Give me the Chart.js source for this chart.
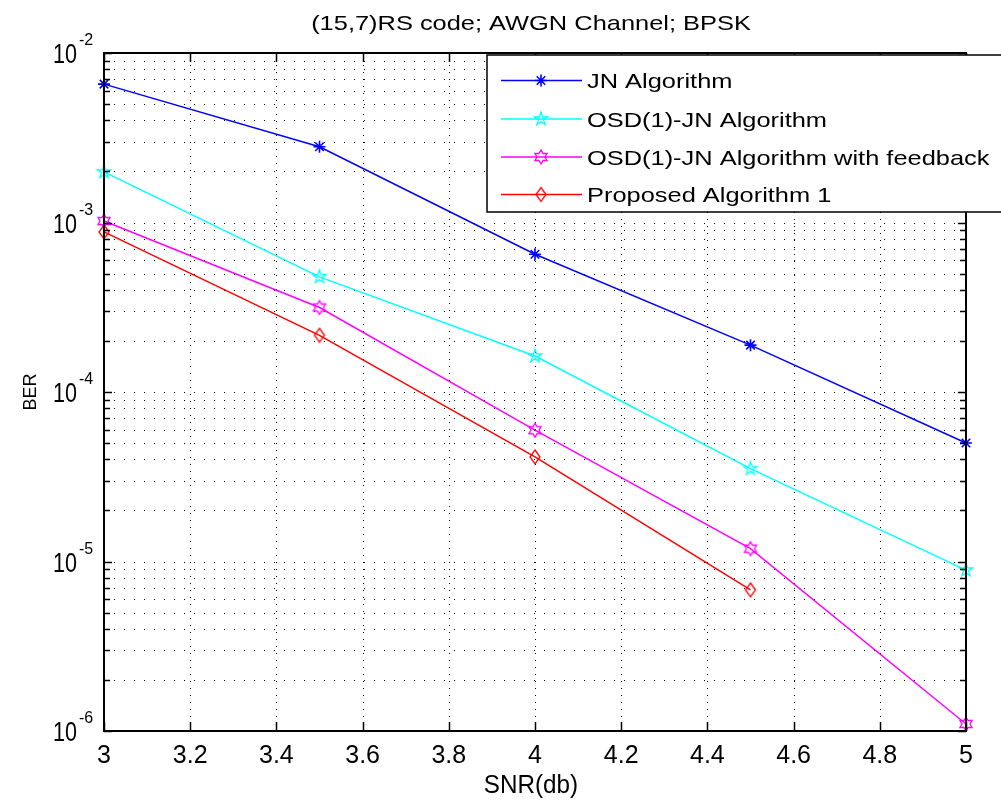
<!DOCTYPE html>
<html>
<head>
<meta charset="utf-8">
<title>(15,7)RS code BER</title>
<script src="https://cdn.jsdelivr.net/npm/chart.js@4/dist/chart.umd.min.js"></script>
<style>
  html, body { margin: 0; padding: 0; background: #fff; }
  canvas { display: block; }
</style>
</head>
<body>
<canvas id="ber" width="1001" height="802"></canvas>
<script>
// SNR points (dB)
const snr = [3, 3.5, 4, 4.5, 5];

// BER per decoder
const berJN = [6.55e-3, 2.8e-3, 6.5e-4, 1.89e-4, 5.0e-5];
const berOSD = [1.99e-3, 4.78e-4, 1.63e-4, 3.53e-5, 8.9e-6];
const berOSDfb = [1.02e-3, 3.15e-4, 5.95e-5, 1.19e-5, 1.1e-6];
const berProposed = [8.8e-4, 2.16e-4, 4.14e-5, 6.8e-6];

const seriesNames = [
  'JN Algorithm',
  'OSD(1)-JN Algorithm',
  'OSD(1)-JN Algorithm with feedback',
  'Proposed Algorithm 1'
];

const xTicks = [3, 3.2, 3.4, 3.6, 3.8, 4, 4.2, 4.4, 4.6, 4.8, 5];
const yDecades = [-6, -5, -4, -3, -2];
const titleText = '(15,7)RS code; AWGN Channel; BPSK';

const FONT = '"Liberation Sans", Arial, sans-serif';

// little marker bitmaps, matlab style
function markerCanvas(kind, color) {
  const c = document.createElement('canvas');
  c.width = 18; c.height = 18;
  const g = c.getContext('2d');
  g.strokeStyle = color;
  g.lineWidth = 1.3;
  g.translate(9, 9);
  g.beginPath();
  if (kind === 'penta') {
    const R = 7, r = R * 0.382;
    for (let i = 0; i < 10; i++) {
      const a = -Math.PI / 2 + i * Math.PI / 5;
      const rr = i % 2 ? r : R;
      g.lineTo(rr * Math.cos(a), rr * Math.sin(a));
    }
  } else if (kind === 'hexa') {
    const R = 7, r = R * 0.577;
    for (let i = 0; i < 12; i++) {
      const a = -Math.PI / 2 + i * Math.PI / 6;
      const rr = i % 2 ? r : R;
      g.lineTo(rr * Math.cos(a), rr * Math.sin(a));
    }
  } else {
    g.moveTo(0, -7); g.lineTo(5, 0); g.lineTo(0, 7); g.lineTo(-5, 0);
  }
  g.closePath();
  g.stroke();
  return c;
}

const mkPenta = markerCanvas('penta', '#00ffff');
const mkHexa = markerCanvas('hexa', '#ff00ff');
const mkDiamond = markerCanvas('diamond', '#ff0000');

function pts(ys) { return ys.map((y, i) => ({ x: snr[i], y: y })); }

function ds(label, ys, color, style) {
  return {
    label: label,
    data: pts(ys),
    borderColor: color,
    backgroundColor: color,
    borderWidth: 1.5,
    pointStyle: style,
    pointRadius: 6,
    pointBorderWidth: 1.6,
    pointBorderColor: color,
    tension: 0,
    clip: false
  };
}

function text(ctx, s, x, y, size, sx, align) {
  ctx.save();
  ctx.translate(x, y);
  ctx.scale(sx, 1);
  ctx.font = size + 'px ' + FONT;
  ctx.textAlign = align;
  ctx.textBaseline = 'alphabetic';
  ctx.fillStyle = '#000';
  ctx.fillText(s, 0, 0);
  ctx.restore();
}

function minorValues() {
  const out = [];
  for (const d of yDecades) {
    for (let m = 1; m <= 9; m++) {
      const v = m * Math.pow(10, d);
      if (v <= 1e-2 * 1.0001) out.push({ v: v, major: m === 1 });
    }
  }
  return out;
}

const axesPlugin = {
  id: 'matlabAxes',
  beforeDatasetsDraw(chart) {
    const { ctx, chartArea: a, scales } = chart;
    const xs = scales.x, ys = scales.y;
    ctx.save();
    ctx.strokeStyle = '#000';
    ctx.lineWidth = 1;
    // dotted grid
    ctx.setLineDash([1, 9]);
    for (const t of minorValues()) {
      const y = Math.round(ys.getPixelForValue(t.v)) + 0.5;
      ctx.beginPath(); ctx.moveTo(a.left + 10, y); ctx.lineTo(a.right, y); ctx.stroke();
    }
    ctx.setLineDash([1, 6]);
    for (const t of xTicks) {
      const x = Math.round(xs.getPixelForValue(t)) + 0.5;
      ctx.beginPath(); ctx.moveTo(x, a.bottom); ctx.lineTo(x, a.top); ctx.stroke();
    }
    ctx.setLineDash([]);
    ctx.restore();
  },
  afterDatasetsDraw(chart) {
    const { ctx, chartArea: a, scales } = chart;
    const xs = scales.x, ys = scales.y;
    ctx.save();
    ctx.strokeStyle = '#000';
    ctx.lineWidth = 1.5;
    // tick marks pointing inward
    for (const t of minorValues()) {
      const y = Math.round(ys.getPixelForValue(t.v)) + 0.5;
      const len = t.major ? 8 : 6;
      ctx.beginPath();
      ctx.moveTo(a.left, y); ctx.lineTo(a.left + len, y);
      ctx.moveTo(a.right, y); ctx.lineTo(a.right - len, y);
      ctx.stroke();
    }
    for (const t of xTicks) {
      const x = Math.round(xs.getPixelForValue(t)) + 0.5;
      ctx.beginPath();
      ctx.moveTo(x, a.bottom); ctx.lineTo(x, a.bottom - 9);
      ctx.moveTo(x, a.top); ctx.lineTo(x, a.top + 9);
      ctx.stroke();
    }
    // axes box
    ctx.lineWidth = 2;
    ctx.strokeRect(a.left, a.top, a.right - a.left, a.bottom - a.top);

    // tick labels
    for (const t of xTicks) {
      text(ctx, String(t), xs.getPixelForValue(t), a.bottom + 32, 25, 1.0, 'center');
    }
    for (const d of yDecades) {
      const y = ys.getPixelForValue(Math.pow(10, d));
      text(ctx, '10', 77, y + 10, 28, 0.77, 'right');
      text(ctx, String(d), 79, y - 8, 16, 1.0, 'left');
    }

    // axis titles and chart title
    text(ctx, titleText, 531, 30, 21, 1.21, 'center');
    text(ctx, 'SNR(db)', 531, 793, 25, 0.97, 'center');
    ctx.save();
    ctx.translate(29, 392);
    ctx.rotate(-Math.PI / 2);
    text(ctx, 'BER', 0, 6.5, 18, 1.0, 'center');
    ctx.restore();
    ctx.restore();
  },
  afterDraw(chart) {
    const ctx = chart.ctx;
    const box = { left: 487, top: 55, right: 1010, bottom: 212 };
    ctx.save();
    ctx.fillStyle = '#fff';
    ctx.fillRect(box.left, box.top, box.right - box.left, box.bottom - box.top);
    ctx.strokeStyle = '#000';
    ctx.lineWidth = 1.5;
    ctx.strokeRect(box.left, box.top, box.right - box.left, box.bottom - box.top);

    const rows = [80.5, 119, 157, 194.5];
    chart.data.datasets.forEach((d, i) => {
      const y = rows[i];
      ctx.strokeStyle = d.borderColor;
      ctx.lineWidth = 1.5;
      ctx.beginPath(); ctx.moveTo(501, y); ctx.lineTo(582, y); ctx.stroke();
      if (d.pointStyle === 'star') {
        const r = 6;
        ctx.lineWidth = 1.6;
        ctx.beginPath();
        ctx.moveTo(541 - r, y); ctx.lineTo(541 + r, y);
        ctx.moveTo(541, y - r); ctx.lineTo(541, y + r);
        const q = r * Math.SQRT1_2;
        ctx.moveTo(541 - q, y - q); ctx.lineTo(541 + q, y + q);
        ctx.moveTo(541 - q, y + q); ctx.lineTo(541 + q, y - q);
        ctx.stroke();
      } else {
        ctx.fillStyle = '#fff';
        ctx.drawImage(d.pointStyle, 541 - 9, y - 9);
      }
      text(ctx, d.label, 587, y + 7.5, 21, 1.21, 'left');
    });
    ctx.restore();
  }
};

new Chart(document.getElementById('ber'), {
  type: 'line',
  data: {
    datasets: [
      ds(seriesNames[0], berJN, '#0000ff', 'star'),
      ds(seriesNames[1], berOSD, '#00ffff', mkPenta),
      ds(seriesNames[2], berOSDfb, '#ff00ff', mkHexa),
      ds(seriesNames[3], berProposed, '#ff0000', mkDiamond)
    ]
  },
  options: {
    responsive: false,
    animation: false,
    devicePixelRatio: 1,
    layout: { padding: { left: 104, top: 53, right: 35, bottom: 71 } },
    plugins: { legend: { display: false }, title: { display: false }, tooltip: { enabled: false } },
    events: [],
    scales: {
      x: { type: 'linear', min: 3, max: 5, display: false },
      y: { type: 'logarithmic', min: 1e-6, max: 1e-2, display: false }
    }
  },
  plugins: [axesPlugin]
});
</script>
</body>
</html>
